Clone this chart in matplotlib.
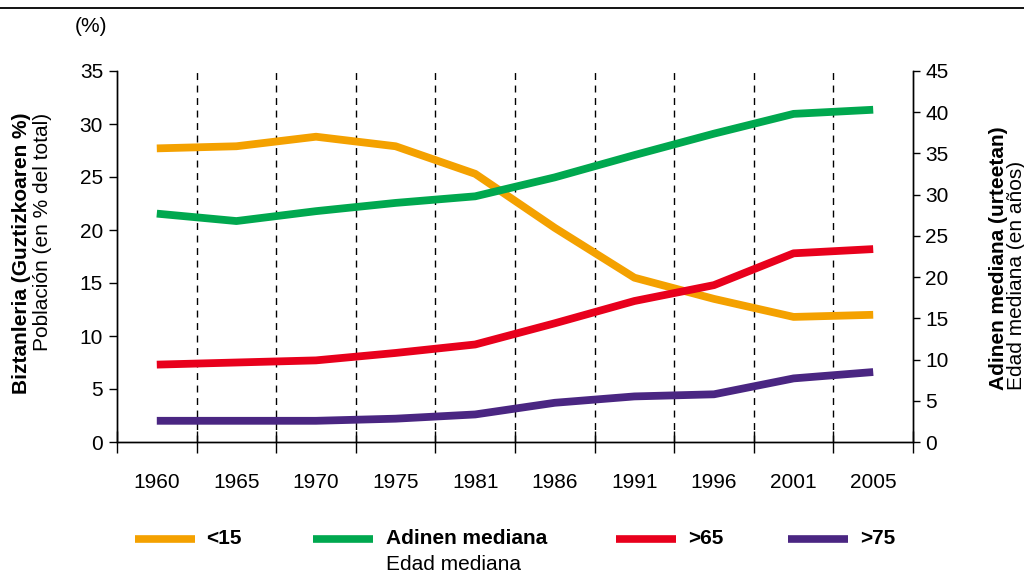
import matplotlib
matplotlib.use("Agg")
import matplotlib.pyplot as plt
from matplotlib.lines import Line2D
import numpy as np

plt.rcParams['font.family'] = ['Liberation Sans', 'DejaVu Sans']

years = ["1960", "1965", "1970", "1975", "1981", "1986", "1991", "1996", "2001", "2005"]
under15 = [27.7, 27.9, 28.8, 27.9, 25.3, 20.2, 15.5, 13.5, 11.8, 12.0]
over65 = [7.3, 7.5, 7.7, 8.4, 9.2, 11.2, 13.3, 14.8, 17.8, 18.2]
over75 = [2.0, 2.0, 2.0, 2.2, 2.6, 3.7, 4.3, 4.5, 6.0, 6.6]
median_age = [27.7, 26.8, 28.0, 29.0, 29.8, 32.1, 34.8, 37.4, 39.8, 40.3]

c_orange = "#F4A100"
c_green = "#00A84F"
c_red = "#E8001C"
c_purple = "#4A2682"

FS = 15

fig = plt.figure(figsize=(10.24, 5.75), dpi=100)
ax = fig.add_axes([117/1024, 1-442/575, (913-117)/1024, (442-71)/575])
ax2 = ax.twinx()

x = np.arange(len(years))
lw = 5.6
ax.plot(x, under15, color=c_orange, lw=lw, solid_capstyle='butt', solid_joinstyle='round', zorder=3)
ax.plot(x, over65, color=c_red, lw=lw, solid_capstyle='butt', solid_joinstyle='round', zorder=3)
ax.plot(x, over75, color=c_purple, lw=lw, solid_capstyle='butt', solid_joinstyle='round', zorder=3)
ax2.plot(x, median_age, color=c_green, lw=lw, solid_capstyle='butt', solid_joinstyle='round', zorder=3)

ax.set_xlim(-0.5, len(years) - 0.5)
ax.set_ylim(0, 35)
ax2.set_ylim(0, 45)
ax.set_yticks(np.arange(0, 36, 5))
ax2.set_yticks(np.arange(0, 46, 5))

# dashed separators
for b in np.arange(0.5, len(years) - 0.5, 1):
    ax.axvline(b, ymin=0, ymax=1, color='black', lw=1, ls=(0, (5, 4)), zorder=1)

ax.set_xticks(np.arange(-0.5, len(years), 1))
ax.set_xticklabels([])
ax.set_xticks(x, minor=True)
ax.set_xticklabels(years, minor=True)
ax.tick_params(axis='x', which='major', direction='inout', length=16, width=1)
ax.tick_params(axis='x', which='minor', length=0, labelsize=FS, pad=22)
ax.tick_params(axis='y', direction='out', length=6, width=1, labelsize=FS, pad=4)
ax2.tick_params(axis='y', direction='out', length=5, width=1, labelsize=FS, pad=4)

for a in (ax, ax2):
    a.spines['top'].set_visible(False)
    for s in ('left', 'right', 'bottom'):
        a.spines[s].set_linewidth(1)

# labels
fig.text(22/1024, 1-113/575, "Biztanleria (Guztizkoaren %)", rotation=90,
         ha='center', va='top', fontsize=FS, fontweight='bold')
fig.text(43/1024, 1-113/575, "Población (en % del total)", rotation=90,
         ha='center', va='top', fontsize=FS)
fig.text(999/1024, 1-390/575, "Adinen mediana (urteetan)", rotation=90,
         ha='center', va='bottom', fontsize=FS, fontweight='bold')
fig.text(1016/1024, 1-390/575, "Edad mediana (en años)", rotation=90,
         ha='center', va='bottom', fontsize=FS)
fig.text(91/1024, 1-27/575, "(%)", ha='center', va='center', fontsize=FS)

# top rule
fig.add_artist(Line2D([0, 1], [1-8/575, 1-8/575], color='black', lw=1.3))

# legend
ly = 1 - 539/575
entries = [(135, 206, c_orange, "<15"), (313, 386, c_green, "Adinen mediana"),
           (616, 688, c_red, ">65"), (788, 860, c_purple, ">75")]
for x0, tx, col, lab in entries:
    fig.add_artist(Line2D([x0/1024, (x0+60)/1024], [ly, ly], color=col, lw=5.5,
                          solid_capstyle='butt'))
    fig.text(tx/1024, ly, lab, ha='left', va='center', fontsize=FS, fontweight='bold')
fig.text(386/1024, 1-565/575, "Edad mediana", ha='left', va='center', fontsize=FS)

fig.savefig("out.png", dpi=100)
